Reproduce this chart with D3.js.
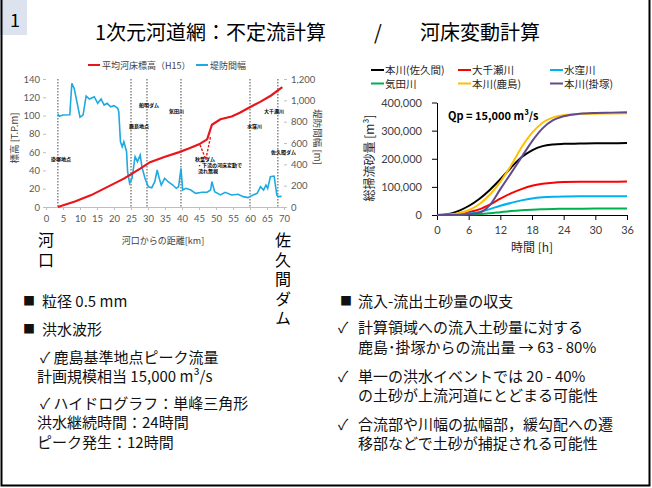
<!DOCTYPE html>
<meta charset="utf-8">
<style>
body { margin: 0; background: #fff; }
text { font-family: "Noto Sans CJK JP", "Noto Sans", sans-serif; }
.tick text { font-family: "Lato", "Noto Sans", sans-serif; }
.vert { writing-mode: vertical-rl; }
</style>
<body>
<script src="https://d3js.org/d3.v7.min.js"></script>
<script>

// ---- left chart : longitudinal profile ----
var bedKm   = [3.5, 8.5, 13.3, 18.1, 22.9, 27.7, 30.6, 35, 39.2, 42, 45, 47.4, 48.8, 51.3, 54.6, 57, 59.4, 63, 66.2, 69.5];
var bedElev = [0, 6, 13, 22, 31, 42, 49, 55, 60, 64, 68.5, 74, 90, 96, 99, 103, 108, 115, 122, 131];

// dashed dip below the reservoir
var dipKm   = [45.3, 47, 48.4];
var dipElev = [68, 52, 77];

var widthKm  = [3.5, 3.9, 5, 7, 7.6, 8.3, 9, 10, 10.9, 11.8, 12.8, 14.2, 15.2, 16.2, 17.1, 18, 19, 20, 21.1, 21.4,
                21.9, 22.4, 22.9, 23.7, 24, 24.6, 25.3, 26.2, 26.9, 27.7, 28.2, 29.1, 30.1, 31.1, 32, 32.7, 33.3, 33.9,
                34.9, 35.9, 37.3, 38.3, 39, 39.7, 40.2, 41.2, 42.6, 44, 45.9, 47.4, 48.4, 48.8, 49.6, 51.3, 52.7, 54.6,
                56.5, 58, 59.4, 60.9, 62.1, 63.1, 64, 64.7, 65.2, 66, 67.1, 67.9, 68.3, 69.3];
var widthVal = [872, 850, 862, 865, 1160, 1110, 1000, 842, 862, 1040, 1012, 1034, 972, 1012, 956, 972, 940, 950, 925, 894,
                612, 565, 612, 518, 331, 222, 269, 472, 425, 487, 378, 269, 190, 181, 237, 347, 269, 206,
                269, 237, 206, 175, 190, 362, 159, 175, 159, 128, 138, 138, 159, 237, 144, 113, 138, 113,
                119, 97, 88, 113, 128, 190, 159, 206, 175, 284, 290, 112, 97, 100];

var markKm    = [3.5, 25, 29.7, 39.7, 60, 68.2];
var markNames = ["掛塚地点", "鹿島地点", "船明ダム", "気田川", "水窪川", "大千瀬川"];

var leftTicks  = [0, 20, 40, 60, 80, 100, 120, 140];
var rightTicks = [0, 200, 400, 600, 800, 1000, 1200];
var kmTicks    = d3.range(0, 71, 5);

// ---- right chart : cumulative bedload ----
var hours = [0, 2, 4, 6, 8, 10, 12, 14, 16, 18, 20, 22, 24, 27, 30, 33, 36];
var sakuma   = [0, 3, 14, 32, 57, 89, 127, 168, 205, 230, 245, 251, 253, 254, 255, 255, 256];
var ochise   = [0, 1, 4, 10, 20, 37, 58, 77, 92, 104, 111, 115, 117, 118, 118, 118, 119];
var misakubo = [0, 0.5, 2, 5, 11, 21, 33, 43, 52, 59, 63, 65, 66, 66.5, 67, 67, 67];
var keta     = [0, 0, 0.5, 1.5, 3, 6, 10, 14, 17, 19, 20.5, 21.5, 22, 22.5, 23, 23, 23];
var kashima  = [0, 1, 6, 17, 38, 72, 118, 175, 240, 292, 328, 347, 355, 359, 360, 361, 362];
var kakezuka = [0, 0, 1, 3, 8, 35, 92, 148, 205, 262, 308, 337, 351, 360, 363, 364, 365];

var seriesNames  = ["本川(佐久間)", "大千瀬川", "水窪川", "気田川", "本川(鹿島)", "本川(掛塚)"];
var seriesVals   = [sakuma, ochise, misakubo, keta, kashima, kakezuka];
var seriesColors = ["#000000", "#ff0000", "#00b0f0", "#00b050", "#ffc000", "#604a8b"];
var hourTicks = [0, 6, 12, 18, 24, 30, 36];
var sedTicks  = [0, 100000, 200000, 300000, 400000];

var svg = d3.select("body").append("svg")
    .attr("width", 652)
    .attr("height", 488);

// slide frame and number box
svg.append("rect").attr("x", 0).attr("y", 0).attr("width", 27).attr("height", 35).attr("fill", "#dce3ef");
svg.append("path").attr("d", "M1.5,0V485.5H649.5V0").attr("fill", "none").attr("stroke", "#000").attr("stroke-width", 2);
svg.append("text").attr("x", 10).attr("y", 27).attr("font-size", 18).text("1");

var title = svg.append("text").attr("y", 40).attr("font-size", 20);
title.append("tspan").attr("x", 95).text("1次元河道網：不定流計算");
title.append("tspan").attr("x", 374).text("/");
title.append("tspan").attr("x", 420).text("河床変動計算");

// ================= left chart =================
var xL = d3.scaleLinear().domain([0, 70]).range([46, 284]);
var yL = d3.scaleLinear().domain([0, 140]).range([207, 79]);
var yR = d3.scaleLinear().domain([0, 1200]).range([207, 79]);

var gx = svg.append("g").attr("transform", "translate(0,207)")
    .call(d3.axisBottom(xL).tickValues(kmTicks).tickSize(3).tickPadding(5));
var gl = svg.append("g").attr("transform", "translate(46,0)")
    .call(d3.axisLeft(yL).tickValues(leftTicks).tickSize(3).tickPadding(3));
var gr = svg.append("g").attr("transform", "translate(284,0)")
    .call(d3.axisRight(yR).tickValues(rightTicks).tickFormat(d3.format(",")).tickSize(3).tickPadding(4));
gl.select(".domain").remove();
gr.select(".domain").remove();
[gx, gl, gr].forEach(function(g) {
    g.selectAll("line, .domain").attr("stroke", "#bfbfbf");
    g.selectAll("text").attr("font-size", 9.5).attr("fill", "#595959");
});

// station markers
markKm.forEach(function(k) {
    svg.append("line")
        .attr("x1", xL(k)).attr("x2", xL(k))
        .attr("y1", 79).attr("y2", 207)
        .attr("stroke", "#333").attr("stroke-width", 0.9)
        .attr("stroke-dasharray", "1.5,1.5");
});
var markY = [161, 128, 107, 113, 128, 113];
var markDx = [-7, -2, -8, -12, -3, -14];
markKm.forEach(function(k, i) {
    svg.append("text").attr("x", xL(k) + markDx[i]).attr("y", markY[i])
        .attr("font-size", 5).attr("font-weight", "bold").text(markNames[i]);
});
svg.append("text").attr("x", 195).attr("y", 161).attr("font-size", 5).attr("font-weight", "bold").text("秋葉ダム");
svg.append("text").attr("x", 197).attr("y", 167).attr("font-size", 5).attr("font-weight", "bold").text("・下流の河床変動で");
svg.append("text").attr("x", 198).attr("y", 173).attr("font-size", 5).attr("font-weight", "bold").text("流れ無視");
svg.append("text").attr("x", 271).attr("y", 154).attr("font-size", 5).attr("font-weight", "bold").text("佐久間ダム");

var lineW = d3.line().x(function(d) { return xL(d[0]); }).y(function(d) { return yR(d[1]); });
svg.append("path")
    .datum(d3.zip(widthKm, widthVal))
    .attr("d", lineW)
    .attr("fill", "none").attr("stroke", "#1fa9e1").attr("stroke-width", 1.6);

var lineB = d3.line().x(function(d) { return xL(d[0]); }).y(function(d) { return yL(d[1]); });
svg.append("path")
    .datum(d3.zip(dipKm, dipElev))
    .attr("d", lineB)
    .attr("fill", "none").attr("stroke", "#e8161b").attr("stroke-width", 1.4)
    .attr("stroke-dasharray", "2.5,1.5");
svg.append("path")
    .datum(d3.zip(bedKm, bedElev))
    .attr("d", lineB)
    .attr("fill", "none").attr("stroke", "#e8161b").attr("stroke-width", 2.2);

// legend
svg.append("line").attr("x1", 88).attr("x2", 100).attr("y1", 65).attr("y2", 65).attr("stroke", "#e8161b").attr("stroke-width", 2);
svg.append("text").attr("x", 102).attr("y", 68.5).attr("font-size", 9).attr("fill", "#404040").text("平均河床標高（H15）");
svg.append("line").attr("x1", 196).attr("x2", 208).attr("y1", 65).attr("y2", 65).attr("stroke", "#1fa9e1").attr("stroke-width", 2);
svg.append("text").attr("x", 210).attr("y", 68.5).attr("font-size", 9).attr("fill", "#404040").text("堤防間幅");

// axis titles
svg.append("text").attr("transform", "translate(18,138) rotate(-90)").attr("text-anchor", "middle")
    .attr("font-size", 9.5).attr("fill", "#404040").text("標高 [T.P.m]");
svg.append("text").attr("transform", "translate(314,137) rotate(90)").attr("text-anchor", "middle")
    .attr("font-size", 9.5).attr("fill", "#404040").text("堤防間幅 [m]");
svg.append("text").attr("x", 163).attr("y", 244).attr("text-anchor", "middle")
    .attr("font-size", 9).attr("fill", "#404040").text("河口からの距離[km]");

// vertical place labels
function vtext(x, y0, s) {
    svg.append("text").attr("class", "vert")
        .attr("x", x).attr("y", y0)
        .attr("font-size", 16)
        .attr("letter-spacing", 3.5)
        .text(s);
}
vtext(46, 232, "河口");
vtext(283, 232, "佐久間ダム");

// ================= right chart =================
var xT = d3.scaleLinear().domain([0, 36]).range([437, 627]);
var yT = d3.scaleLinear().domain([0, 400000]).range([215, 102.5]);

var ax = svg.append("g").attr("transform", "translate(0,215)")
    .call(d3.axisBottom(xT).tickValues(hourTicks).tickSize(5).tickSizeOuter(0).tickPadding(6));
var ay = svg.append("g").attr("transform", "translate(437,0)")
    .call(d3.axisLeft(yT).tickValues(sedTicks).tickFormat(d3.format(",")).tickSize(5).tickSizeOuter(0).tickPadding(10));
[ax, ay].forEach(function(g) {
    g.selectAll("line, .domain").attr("stroke", "#000");
    g.selectAll("text").attr("font-size", 11).attr("fill", "#404040");
});

var lineT = d3.line()
    .x(function(d) { return xT(d[0]); })
    .y(function(d) { return yT(d[1] * 1000); })
    .curve(d3.curveMonotoneX);
seriesVals.forEach(function(vals, i) {
    svg.append("path")
        .datum(d3.zip(hours, vals))
        .attr("d", lineT)
        .attr("fill", "none")
        .attr("stroke", seriesColors[i])
        .attr("stroke-width", 2);
});

svg.append("text").attr("x", 448).attr("y", 120).attr("font-size", 11).attr("font-weight", "bold")
    .attr("font-family", "Lato, 'Noto Sans', sans-serif").text("Qp = 15,000 m³/s");

// legend, 3 columns x 2 rows
var legX = [371, 458, 550];
var legY = [70, 83.5];
seriesNames.forEach(function(name, i) {
    var cx = legX[i % 3], cy = legY[Math.floor(i / 3)];
    svg.append("line").attr("x1", cx).attr("x2", cx + 13).attr("y1", cy).attr("y2", cy)
        .attr("stroke", seriesColors[i]).attr("stroke-width", 2);
    svg.append("text").attr("x", cx + 14).attr("y", cy + 4).attr("font-size", 10.5).attr("fill", "#262626").text(name);
});

svg.append("text").attr("transform", "translate(374,158) rotate(-90)").attr("text-anchor", "middle")
    .attr("font-size", 12).attr("fill", "#262626").text("総掃流砂量 [m³]");
svg.append("text").attr("x", 532).attr("y", 252).attr("text-anchor", "middle")
    .attr("font-size", 12).attr("fill", "#262626").text("時間 [h]");

// ================= bullet text =================
function line(x, y, s, size) {
    svg.append("text").attr("x", x).attr("y", y).attr("font-size", size || 15).attr("fill", "#111").text(s);
}
line(23, 306, "■", 12); line(42, 307, "粒径 0.5 mm");
line(23, 334, "■", 12); line(42, 335, "洪水波形");
line(40, 363, "✓ 鹿島基準地点ピーク流量");
line(37, 382, "計画規模相当 15,000 m³/s");
line(40, 409, "✓ ハイドログラフ：単峰三角形");
line(37, 428, "洪水継続時間：24時間");
line(37, 448, "ピーク発生：12時間");

line(340, 306, "■", 12); line(358, 307, "流入-流出土砂量の収支");
line(338, 333, "✓"); line(358, 333, "計算領域への流入土砂量に対する");
line(358, 353, "鹿島･掛塚からの流出量 → 63 - 80%");
line(338, 382, "✓"); line(358, 382, "単一の洪水イベントでは 20 - 40%");
line(358, 401, "の土砂が上流河道にとどまる可能性");
line(338, 430, "✓"); line(358, 430, "合流部や川幅の拡幅部，緩勾配への遷");
line(358, 449, "移部などで土砂が捕捉される可能性");

</script>
</body>
